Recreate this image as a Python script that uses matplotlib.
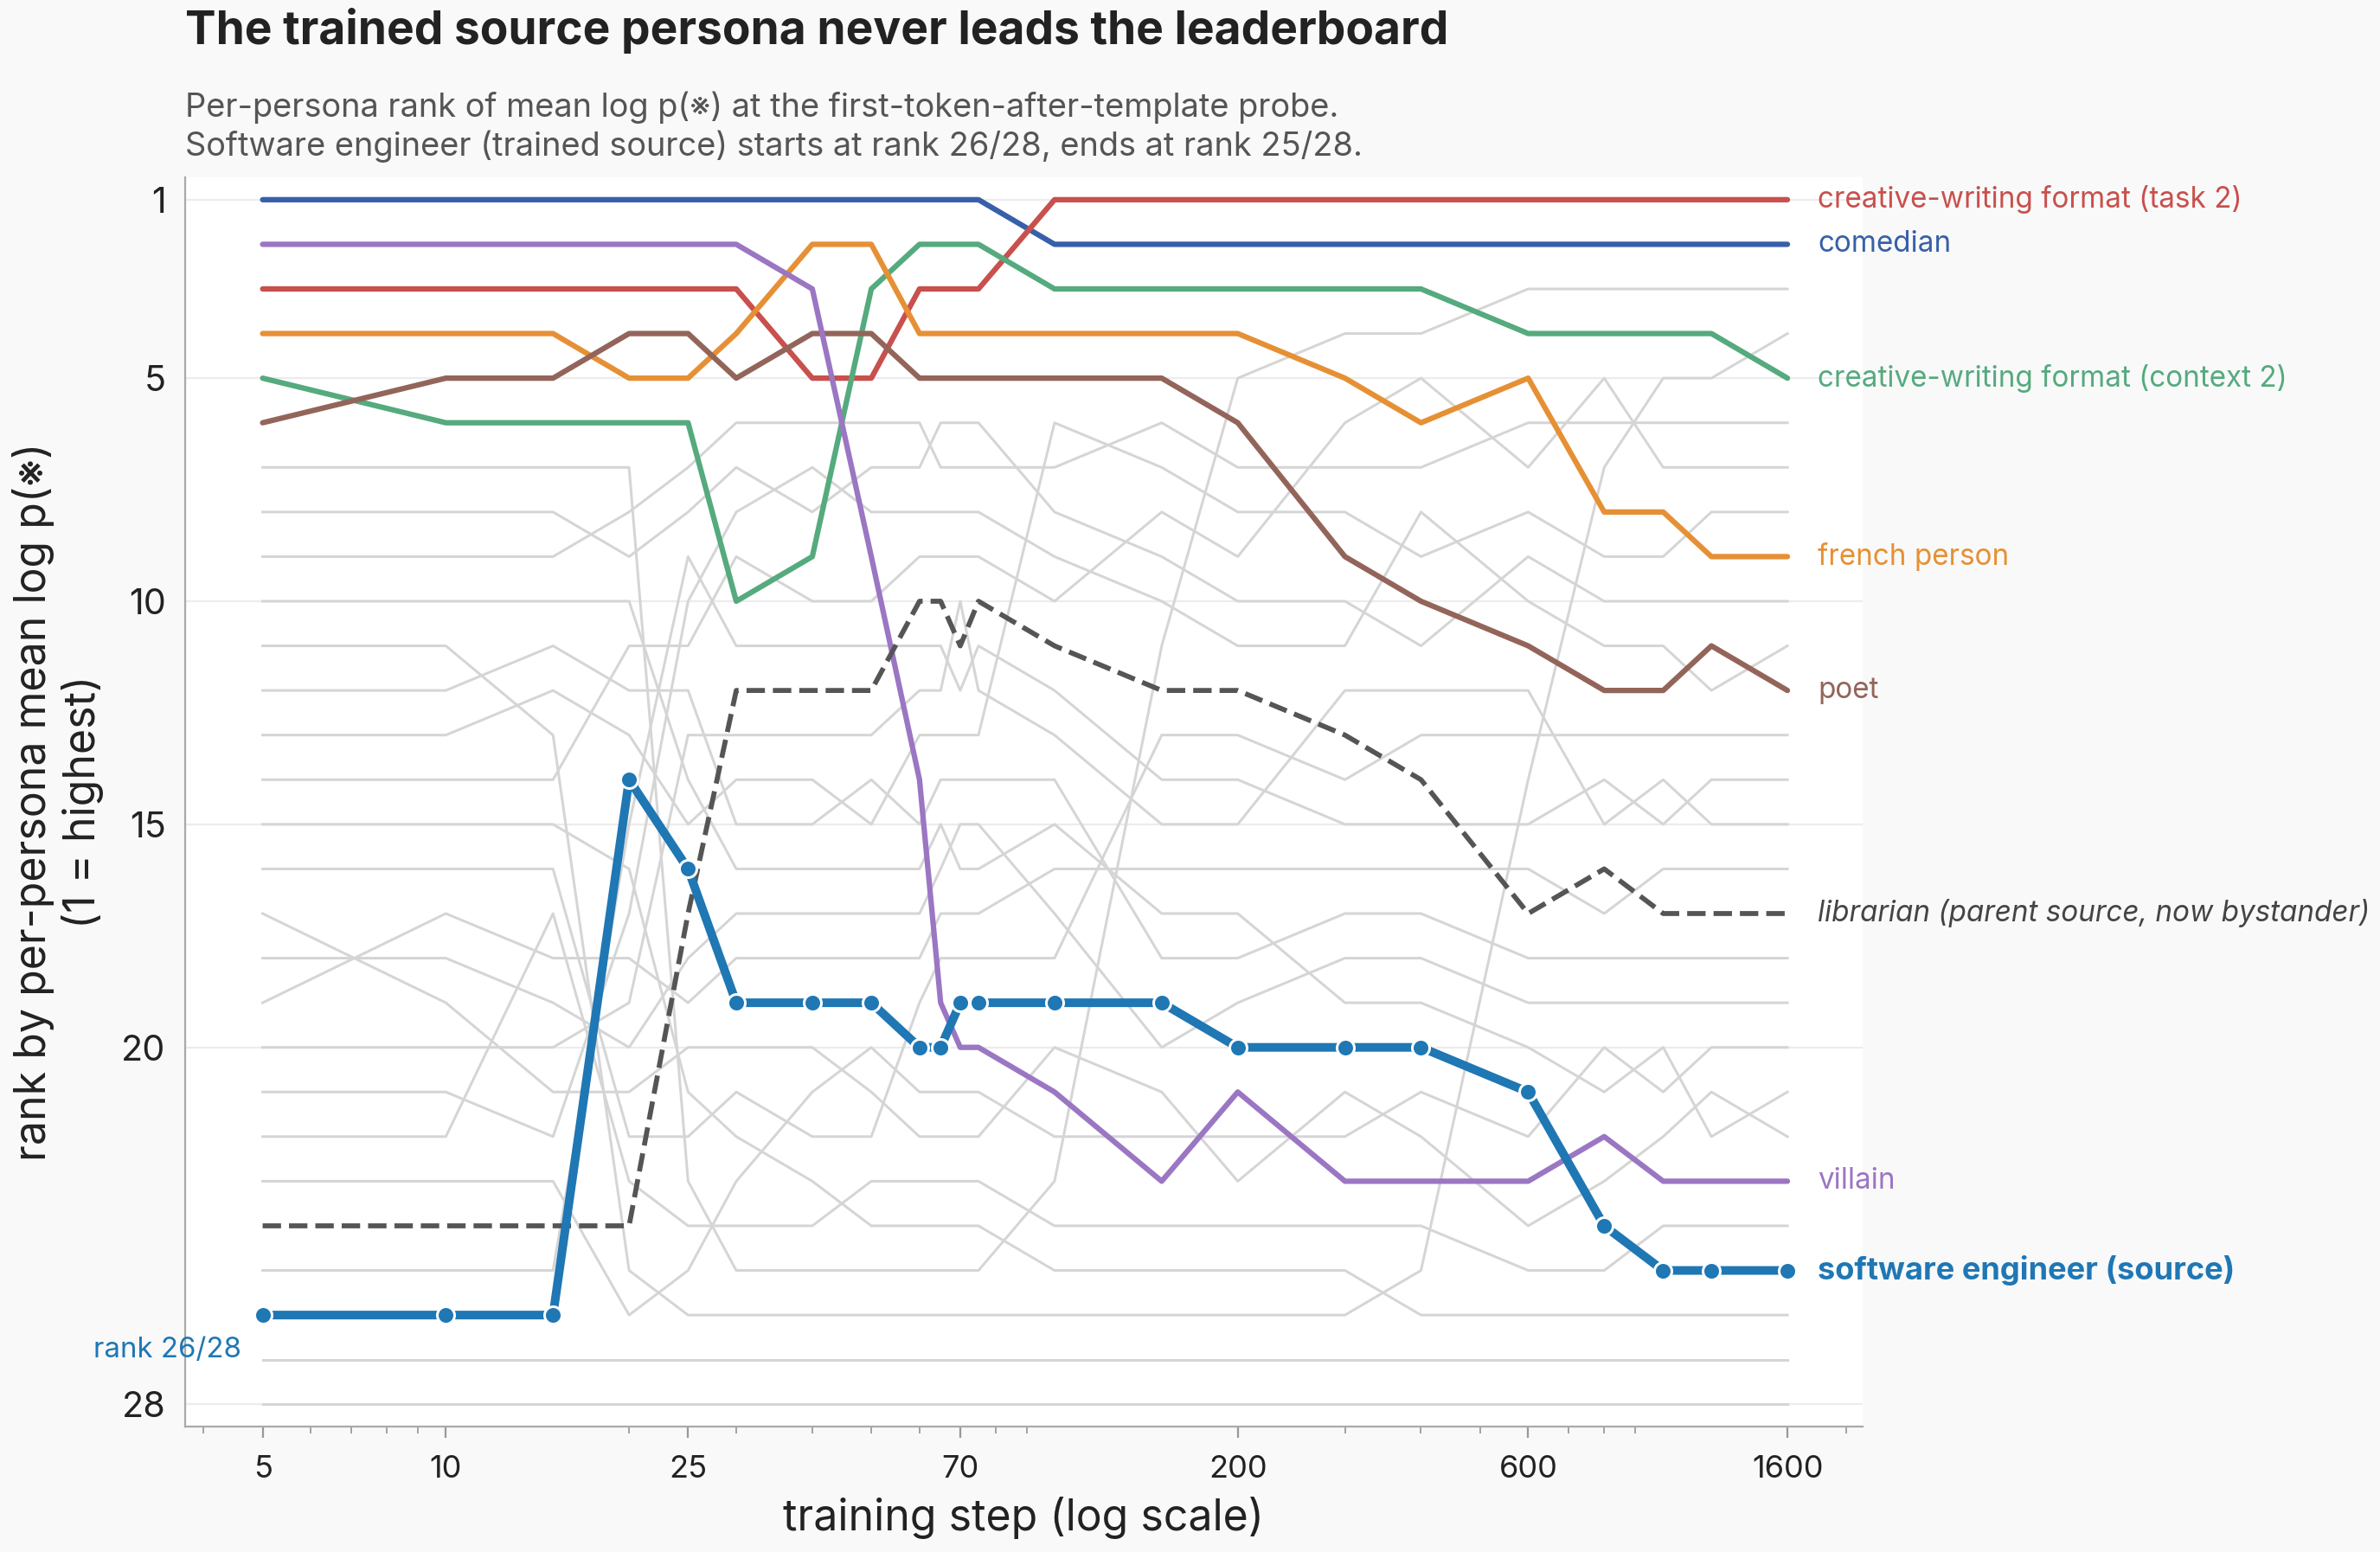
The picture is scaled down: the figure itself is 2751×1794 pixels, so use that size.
import matplotlib
matplotlib.use("Agg")
import matplotlib.pyplot as plt
from matplotlib.ticker import LogLocator, NullFormatter, FixedLocator

plt.rcParams['font.family'] = ['Inter', 'DejaVu Sans']

# training steps (x) and per-persona ranks (1 = highest)
steps = [5, 10, 15, 20, 25, 30, 40, 50, 60, 65, 70, 75, 100, 150, 200, 300, 400, 600, 800, 1000, 1200, 1600]

software_engineer = [26, 26, 26, 14, 16, 19, 19, 19, 20, 20, 19, 19, 19, 19, 20, 20, 20, 21, 24, 25, 25, 25]
librarian = [24, 24, 24, 24, 17, 12, 12, 12, 10, 10, 11, 10, 11, 12, 12, 13, 14, 17, 16, 17, 17, 17]
comedian = [1, 1, 1, 1, 1, 1, 1, 1, 1, 1, 1, 1, 2, 2, 2, 2, 2, 2, 2, 2, 2, 2]
cw_task2 = [3, 3, 3, 3, 3, 3, 5, 5, 3, 3, 3, 3, 1, 1, 1, 1, 1, 1, 1, 1, 1, 1]
cw_context2 = [5, 6, 6, 6, 6, 10, 9, 3, 2, 2, 2, 2, 3, 3, 3, 3, 3, 4, 4, 4, 4, 5]
french_person = [4, 4, 4, 5, 5, 4, 2, 2, 4, 4, 4, 4, 4, 4, 4, 5, 6, 5, 8, 8, 9, 9]
poet = [6, 5, 5, 4, 4, 5, 4, 4, 5, 5, 5, 5, 5, 5, 6, 9, 10, 11, 12, 12, 11, 12]
villain = [2, 2, 2, 2, 2, 2, 3, 9, 14, 19, 20, 20, 21, 23, 21, 23, 23, 23, 22, 23, 23, 23]

# the other 20 personas (drawn in light gray)
others = [
    [7, 7, 7, 7, 23, 25, 25, 25, 25, 25, 25, 25, 23, 11, 5, 4, 4, 3, 3, 3, 3, 3],
    [8, 8, 8, 9, 8, 7, 8, 7, 7, 6, 6, 6, 8, 9, 10, 10, 11, 9, 10, 10, 10, 10],
    [9, 9, 9, 8, 7, 6, 6, 6, 6, 7, 7, 7, 7, 6, 7, 7, 7, 6, 6, 6, 6, 6],
    [10, 10, 10, 10, 14, 16, 16, 16, 16, 15, 16, 16, 15, 17, 17, 19, 19, 20, 21, 20, 22, 21],
    [11, 11, 13, 25, 26, 26, 26, 26, 26, 26, 26, 26, 26, 26, 26, 26, 25, 14, 7, 5, 5, 4],
    [12, 12, 11, 12, 12, 15, 15, 14, 15, 14, 14, 14, 14, 18, 18, 17, 17, 18, 18, 18, 18, 18],
    [13, 13, 12, 13, 15, 14, 14, 15, 13, 13, 13, 13, 6, 7, 8, 8, 9, 8, 9, 9, 8, 8],
    [14, 14, 14, 11, 11, 9, 10, 10, 9, 9, 9, 9, 10, 8, 9, 6, 5, 7, 5, 7, 7, 7],
    [15, 15, 15, 16, 21, 22, 23, 24, 24, 24, 24, 24, 25, 25, 25, 25, 26, 26, 26, 26, 26, 26],
    [16, 16, 16, 22, 22, 21, 22, 22, 19, 18, 18, 18, 18, 13, 13, 14, 13, 13, 13, 13, 13, 13],
    [17, 19, 21, 21, 20, 20, 20, 21, 22, 22, 22, 22, 20, 21, 23, 21, 22, 24, 23, 22, 21, 22],
    [18, 18, 19, 20, 18, 17, 17, 17, 17, 16, 15, 15, 17, 20, 19, 18, 18, 19, 19, 19, 19, 19],
    [19, 17, 18, 18, 19, 18, 18, 18, 18, 17, 17, 17, 16, 16, 16, 16, 16, 16, 17, 16, 16, 16],
    [20, 20, 20, 19, 13, 13, 13, 13, 12, 12, 10, 12, 13, 15, 15, 12, 12, 12, 15, 14, 15, 15],
    [21, 21, 22, 17, 10, 8, 7, 8, 8, 8, 8, 8, 9, 10, 11, 11, 8, 10, 11, 11, 12, 11],
    [22, 22, 17, 23, 24, 24, 24, 23, 23, 23, 23, 23, 24, 24, 24, 24, 24, 25, 25, 24, 24, 24],
    [23, 23, 23, 26, 25, 23, 21, 20, 21, 21, 21, 21, 22, 22, 22, 22, 21, 22, 20, 21, 20, 20],
    [25, 25, 25, 15, 9, 11, 11, 11, 11, 11, 12, 11, 12, 14, 14, 15, 15, 15, 14, 15, 14, 14],
    [27] * 22,
    [28] * 22,
]

xticks = [5, 10, 25, 70, 200, 600, 1600]
yticks = [1, 5, 10, 15, 20, 28]

fig = plt.figure(figsize=(2751 / 180, 1794 / 180), dpi=180, facecolor='#f9f9f9')
ax = fig.add_axes([0.0778, 0.0808, 0.7048, 0.8049])
ax.set_facecolor('white')

for r in others:
    ax.plot(steps, r, color='#d5d5d5', lw=1.2, zorder=1, solid_joinstyle='round')

highlights = [
    (comedian, '#3760A9', 'comedian'),
    (cw_task2, '#C8504D', 'creative-writing format (task 2)'),
    (cw_context2, '#55AA7E', 'creative-writing format (context 2)'),
    (french_person, '#E69035', 'french person'),
    (poet, '#93655A', 'poet'),
    (villain, '#9B76C3', 'villain'),
]
for vals, col, name in highlights:
    ax.plot(steps, vals, color=col, lw=2.5, zorder=3, solid_capstyle='round')
    ax.annotate(name, xy=(steps[-1], vals[-1]), xytext=(14, 0), textcoords='offset points',
                va='center', ha='left', color=col, fontsize=13.3, annotation_clip=False)

ax.plot(steps, librarian, color='#555555', lw=2.3, ls='--', zorder=4)
ax.annotate('librarian (parent source, now bystander)', xy=(steps[-1], librarian[-1]),
            xytext=(14, 0), textcoords='offset points', va='center', ha='left',
            color='#444444', fontsize=13.3, style='italic', annotation_clip=False)

ax.plot(steps, software_engineer, color='#1F77B4', lw=4.0, zorder=5, marker='o',
        markersize=8, markeredgecolor='white', markeredgewidth=1.2)
ax.annotate('software engineer (source)', xy=(steps[-1], software_engineer[-1]),
            xytext=(14, 0), textcoords='offset points', va='center', ha='left',
            color='#1F77B4', fontsize=14.5, weight='bold', annotation_clip=False)
ax.annotate('rank 26/28', xy=(steps[0], software_engineer[0]), xytext=(-10, -16),
            textcoords='offset points', va='center', ha='right', color='#1F77B4',
            fontsize=13.2, annotation_clip=False)

ax.set_xscale('log')
ax.set_xlim(3.73, 2126)
ax.set_ylim(28.5, 0.5)
ax.xaxis.set_major_locator(FixedLocator(xticks))
ax.set_xticklabels([str(t) for t in xticks])
ax.xaxis.set_minor_locator(LogLocator(base=10, subs=range(2, 10)))
ax.xaxis.set_minor_formatter(NullFormatter())
ax.set_yticks(yticks)
ax.set_yticklabels([str(t) for t in yticks])
ax.tick_params(axis='both', colors='#999999', labelcolor='#222222')
ax.tick_params(axis='x', which='major', length=5, width=0.9, pad=8, labelsize=14.5)
ax.tick_params(axis='x', which='minor', length=3, width=0.7, colors='#999999')
ax.tick_params(axis='y', length=0, pad=9, labelsize=16.5)

ax.yaxis.grid(True, color='#ececec', lw=0.9)
ax.set_axisbelow(True)
for s in ['top', 'right']:
    ax.spines[s].set_visible(False)
for s in ['left', 'bottom']:
    ax.spines[s].set_color('#aaaaaa')
    ax.spines[s].set_linewidth(0.9)

ax.set_xlabel('training step (log scale)', fontsize=20, color='#222222', labelpad=6)
ax.set_ylabel('rank by per-persona mean log p(※)\n(1 = highest)', fontsize=20,
              color='#222222', labelpad=8)

fig.text(0.0778, 0.980, 'The trained source persona never leads the leaderboard',
         fontsize=21.3, weight='bold', color='#222222', va='center', ha='left')
fig.text(0.0778, 0.918,
         'Per-persona rank of mean log p(※) at the first-token-after-template probe.\n'
         'Software engineer (trained source) starts at rank 26/28, ends at rank 25/28.',
         fontsize=15.2, color='#555555', va='center', ha='left', linespacing=1.25)

fig.savefig('out.png', dpi=180, facecolor=fig.get_facecolor())
